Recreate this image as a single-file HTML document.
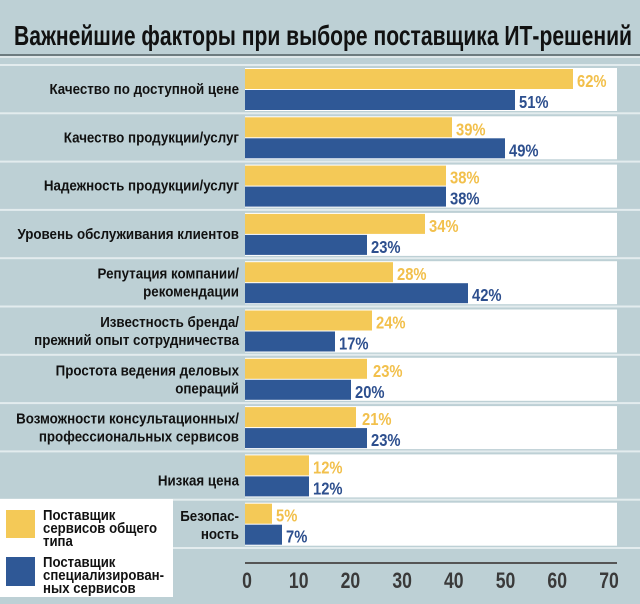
<!DOCTYPE html>
<html><head><meta charset="utf-8"><style>
html,body{margin:0;padding:0;background:#bdd0d5;}
svg{display:block;}
text{font-family:"Liberation Sans Narrow","Liberation Sans",sans-serif;font-weight:bold;}
</style></head><body>
<svg width="640" height="604" viewBox="0 0 640 604" xmlns="http://www.w3.org/2000/svg">
<rect x="0" y="0" width="640" height="604" fill="#bdd0d5"/>
<text x="14" y="45" font-size="28" fill="#111" textLength="618" lengthAdjust="spacingAndGlyphs">Важнейшие факторы при выборе поставщика ИТ-решений</text>
<rect x="0" y="54" width="640" height="2" fill="#6d7b7f"/>
<rect x="0" y="56" width="640" height="2" fill="#dfe8ea"/>
<g fill="#e3ecee">
<rect x="0" y="64" width="640" height="2"/><rect x="0" y="112.3" width="640" height="2"/><rect x="0" y="160.6" width="640" height="2"/><rect x="0" y="208.9" width="640" height="2"/><rect x="0" y="257.2" width="640" height="2"/><rect x="0" y="305.5" width="640" height="2"/><rect x="0" y="353.8" width="640" height="2"/><rect x="0" y="402.1" width="640" height="2"/><rect x="0" y="450.4" width="640" height="2"/><rect x="0" y="498.7" width="640" height="2"/><rect x="0" y="547" width="640" height="2"/>
</g>
<g fill="#fff">
<rect x="245" y="68" width="372" height="43"/><rect x="245" y="116.3" width="372" height="43"/><rect x="245" y="164.6" width="372" height="43"/><rect x="245" y="212.9" width="372" height="43"/><rect x="245" y="261.2" width="372" height="43"/><rect x="245" y="309.5" width="372" height="43"/><rect x="245" y="357.8" width="372" height="43"/><rect x="245" y="406.1" width="372" height="43"/><rect x="245" y="454.4" width="372" height="43"/><rect x="245" y="502.7" width="372" height="43"/>
</g>
<g fill="#f4c957">
<rect x="245" y="69" width="328" height="20"/><rect x="245" y="117.3" width="207" height="20"/><rect x="245" y="165.6" width="201" height="20"/><rect x="245" y="213.9" width="180" height="20"/><rect x="245" y="262.2" width="148" height="20"/><rect x="245" y="310.5" width="127" height="20"/><rect x="245" y="358.8" width="122" height="20"/><rect x="245" y="407.1" width="111" height="20"/><rect x="245" y="455.4" width="64" height="20"/><rect x="245" y="503.7" width="27" height="20"/>
</g>
<g fill="#2f5896">
<rect x="245" y="90" width="270" height="20"/><rect x="245" y="138.3" width="260" height="20"/><rect x="245" y="186.6" width="201" height="20"/><rect x="245" y="234.9" width="122" height="20"/><rect x="245" y="283.2" width="223" height="20"/><rect x="245" y="331.5" width="90" height="20"/><rect x="245" y="379.8" width="106" height="20"/><rect x="245" y="428.1" width="122" height="20"/><rect x="245" y="476.4" width="64" height="20"/><rect x="245" y="524.7" width="37" height="20"/>
</g>
<g font-size="18" fill="#f2c04c">
<g transform="translate(577,87) scale(0.82,1)"><text>62%</text></g>
<g transform="translate(456,135.3) scale(0.82,1)"><text>39%</text></g>
<g transform="translate(450,183.6) scale(0.82,1)"><text>38%</text></g>
<g transform="translate(429,231.9) scale(0.82,1)"><text>34%</text></g>
<g transform="translate(397,280.2) scale(0.82,1)"><text>28%</text></g>
<g transform="translate(376,328.5) scale(0.82,1)"><text>24%</text></g>
<g transform="translate(373,376.8) scale(0.82,1)"><text>23%</text></g>
<g transform="translate(362,425.1) scale(0.82,1)"><text>21%</text></g>
<g transform="translate(313,473.4) scale(0.82,1)"><text>12%</text></g>
<g transform="translate(276,521.7) scale(0.82,1)"><text>5%</text></g>
</g>
<g font-size="18" fill="#2d4f8e">
<g transform="translate(519,108) scale(0.82,1)"><text>51%</text></g>
<g transform="translate(509,156.3) scale(0.82,1)"><text>49%</text></g>
<g transform="translate(450,204.6) scale(0.82,1)"><text>38%</text></g>
<g transform="translate(371,252.9) scale(0.82,1)"><text>23%</text></g>
<g transform="translate(472,301.2) scale(0.82,1)"><text>42%</text></g>
<g transform="translate(339,349.5) scale(0.82,1)"><text>17%</text></g>
<g transform="translate(355,397.8) scale(0.82,1)"><text>20%</text></g>
<g transform="translate(371,446.1) scale(0.82,1)"><text>23%</text></g>
<g transform="translate(313,494.4) scale(0.82,1)"><text>12%</text></g>
<g transform="translate(286,542.7) scale(0.82,1)"><text>7%</text></g>
</g>
<g font-size="15" fill="#111" text-anchor="end">
<g transform="translate(239,94) scale(0.89,1)"><text>Качество по доступной цене</text></g>
<g transform="translate(239,142.3) scale(0.89,1)"><text>Качество продукции/услуг</text></g>
<g transform="translate(239,190.6) scale(0.89,1)"><text>Надежность продукции/услуг</text></g>
<g transform="translate(239,238.9) scale(0.89,1)"><text>Уровень обслуживания клиентов</text></g>
<g transform="translate(239,278.7) scale(0.89,1)"><text>Репутация компании/</text><text y="18">рекомендации</text></g>
<g transform="translate(239,327) scale(0.89,1)"><text>Известность бренда/</text><text y="18">прежний опыт сотрудничества</text></g>
<g transform="translate(239,375.3) scale(0.89,1)"><text>Простота ведения деловых</text><text y="18">операций</text></g>
<g transform="translate(239,423.6) scale(0.89,1)"><text>Возможности консультационных/</text><text y="18">профессиональных сервисов</text></g>
<g transform="translate(239,485.4) scale(0.89,1)"><text>Низкая цена</text></g>
<g transform="translate(239,521.2) scale(0.89,1)"><text>Безопас-</text><text y="18">ность</text></g>
</g>
<rect x="245" y="562" width="372" height="2" fill="#555"/>
<g font-size="22" fill="#3a3a3a" text-anchor="middle">
<g transform="translate(247,588) scale(0.8,1)"><text>0</text></g>
<g transform="translate(298.7,588) scale(0.8,1)"><text>10</text></g>
<g transform="translate(350.4,588) scale(0.8,1)"><text>20</text></g>
<g transform="translate(402.1,588) scale(0.8,1)"><text>30</text></g>
<g transform="translate(453.8,588) scale(0.8,1)"><text>40</text></g>
<g transform="translate(505.5,588) scale(0.8,1)"><text>50</text></g>
<g transform="translate(557.2,588) scale(0.8,1)"><text>60</text></g>
<g transform="translate(609,588) scale(0.8,1)"><text>70</text></g>
</g>
<rect x="0" y="499" width="173" height="98" fill="#fff"/>
<rect x="6" y="510" width="29" height="28" fill="#f4c957"/>
<rect x="6" y="557" width="29" height="29" fill="#2f5896"/>
<g font-size="15" fill="#111">
<g transform="translate(43,520) scale(0.88,1)"><text>Поставщик</text><text y="13">сервисов общего</text><text y="26">типа</text></g>
<g transform="translate(43,567) scale(0.88,1)"><text>Поставщик</text><text y="13">специализирован-</text><text y="26">ных сервисов</text></g>
</g>
</svg>
</body></html>
